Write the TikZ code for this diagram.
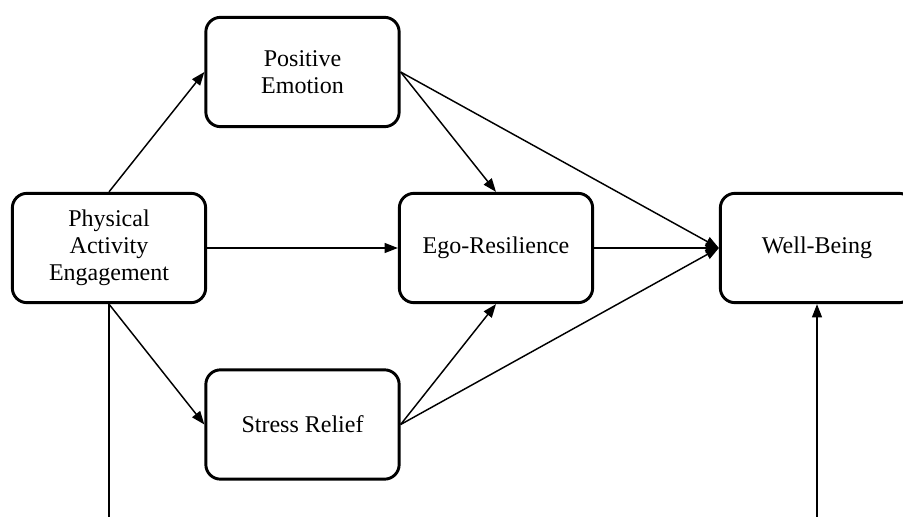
\documentclass[tikz,border=0pt]{standalone}
\usepackage{fontspec}
\setmainfont{Liberation Serif}
\usetikzlibrary{arrows.meta}
\begin{document}
\begin{tikzpicture}[x=0.75pt,y=-0.75pt,
  box/.style={draw=black,line width=2.2pt,rounded corners=11pt,minimum width=145pt,minimum height=82pt,align=center,font=\fontsize{18}{20.3}\selectfont,inner sep=2pt},
  conn/.style={line width=1.1pt,-{Triangle[length=10pt,width=7.5pt]}}]
\clip (0,0) rectangle (903,517);
\fill[white] (0,0) rectangle (903,517);
\node[box] (pe) at (302.5,72) {Positive\\Emotion};
\node[box] (pae) at (109,248) {Physical\\Activity\\Engagement};
\node[box] (ego) at (496,248) {Ego-Resilience};
\node[box] (wb) at (817,248) {Well-Being};
\node[box] (sr) at (302.5,424.5) {Stress Relief};
\draw[conn] (pae.north) -- (pe.west);
\draw[conn] (pae.east) -- (ego.west);
\draw[conn] (pae.south) -- (sr.west);
\draw[conn] (pe.east) -- (ego.north);
\draw[conn] (pe.east) -- (wb.west);
\draw[conn] (ego.east) -- (wb.west);
\draw[conn] (sr.east) -- (ego.south);
\draw[conn] (sr.east) -- (wb.west);
\draw[conn] (pae.south) -- (109,560) -| (wb.south);
\end{tikzpicture}
\end{document}
